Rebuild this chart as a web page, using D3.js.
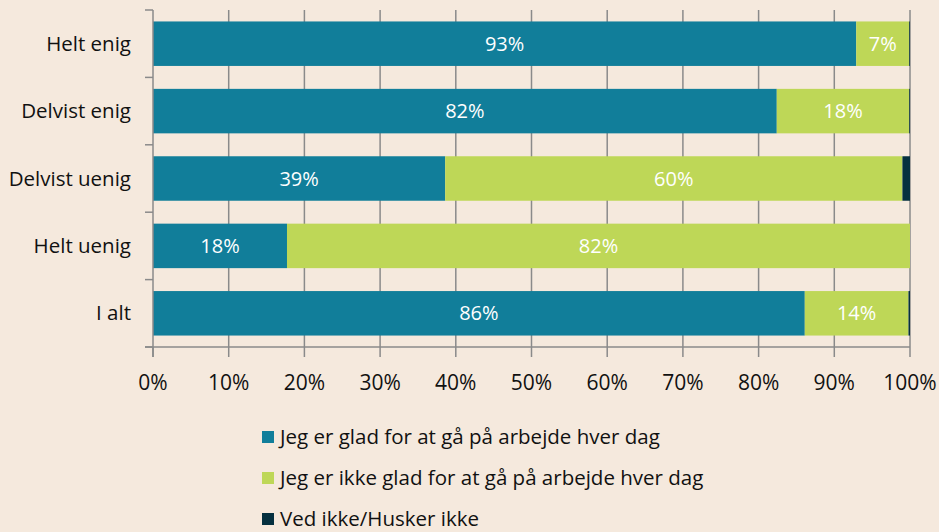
<!DOCTYPE html>
<html>
<head>
<meta charset="utf-8">
<script src="https://cdn.jsdelivr.net/npm/d3@7"></script>
<style>
  body { margin: 0; background: #F5E9DD; }
  svg { display: block; font-family: "Open Sans", "Noto Sans", sans-serif; }
</style>
</head>
<body>
<div id="chart"></div>
<script>
const categories = ["Helt enig", "Delvist enig", "Delvist uenig", "Helt uenig", "I alt"];
const seriesNames = ["Jeg er glad for at gå på arbejde hver dag", "Jeg er ikke glad for at gå på arbejde hver dag", "Ved ikke/Husker ikke"];
const glad = [92.9, 82.4, 38.6, 17.7, 86.1];
const ikkeGlad = [7.0, 17.5, 60.4, 82.3, 13.7];
const vedIkke = [0.1, 0.1, 1.0, 0.0, 0.2];
const barLabels = [["93%", "7%", ""], ["82%", "18%", ""], ["39%", "60%", ""], ["18%", "82%", ""], ["86%", "14%", ""]];
const xTicks = [0, 10, 20, 30, 40, 50, 60, 70, 80, 90, 100];
const colors = ["#117E9A", "#BED757", "#05303F"];

const w = 939, h = 532;
const plotLeft = 153, plotRight = 910, plotTop = 10, plotBottom = 347;

const svg = d3.select("#chart").append("svg")
    .attr("width", w)
    .attr("height", h);

const x = d3.scaleLinear().domain([0, 100]).range([plotLeft, plotRight]);
const y = d3.scaleBand().domain(categories).range([plotTop, plotBottom]).paddingInner(0.34).paddingOuter(0.17);

// build stacked rows
const rows = categories.map(function(c, i) {
    return { cat: c, vals: [glad[i], ikkeGlad[i], vedIkke[i]], labels: barLabels[i] };
});
const stack = d3.stack().keys([0, 1, 2]).value(function(d, k) { return d.vals[k]; });
const stacked = stack(rows);

/* GRID */
svg.append("g")
    .selectAll("line")
    .data(xTicks.slice(1))
    .enter().append("line")
    .attr("x1", d => x(d)).attr("x2", d => x(d))
    .attr("y1", plotTop).attr("y2", plotBottom)
    .attr("stroke", "#8A8A8A")
    .attr("stroke-width", 1.5);

/* BARS */
const layers = svg.selectAll(".layer")
    .data(stacked)
    .enter().append("g")
    .attr("fill", (d, i) => colors[i]);

layers.selectAll("rect")
    .data(d => d)
    .enter().append("rect")
    .attr("x", d => x(d[0]))
    .attr("y", d => y(d.data.cat))
    .attr("width", d => x(d[1]) - x(d[0]))
    .attr("height", y.bandwidth());

layers.selectAll("text")
    .data((d, k) => d.map(s => ({ s: s, k: k })))
    .enter().append("text")
    .attr("x", d => (x(d.s[0]) + x(d.s[1])) / 2)
    .attr("y", d => y(d.s.data.cat) + y.bandwidth() / 2)
    .attr("dy", "0.35em")
    .attr("text-anchor", "middle")
    .attr("fill", "#ffffff")
    .style("font-size", "20px")
    .text(d => d.s.data.labels[d.k]);

/* AXES */
const yAxis = svg.append("g")
    .attr("transform", "translate(" + plotLeft + ",0)");
yAxis.append("line")
    .attr("x1", 0).attr("x2", 0).attr("y1", plotTop).attr("y2", plotBottom + 10)
    .attr("stroke", "#8A8A8A").attr("stroke-width", 1.5);
const step = (plotBottom - plotTop) / categories.length;
yAxis.selectAll(".tk")
    .data(d3.range(categories.length + 1))
    .enter().append("line")
    .attr("x1", -8).attr("x2", 0)
    .attr("y1", d => plotTop + d * step).attr("y2", d => plotTop + d * step)
    .attr("stroke", "#8A8A8A").attr("stroke-width", 1.5);
yAxis.selectAll("text")
    .data(categories)
    .enter().append("text")
    .attr("x", -22)
    .attr("y", d => y(d) + y.bandwidth() / 2)
    .attr("dy", "0.35em")
    .attr("text-anchor", "end")
    .attr("fill", "#111")
    .style("font-size", "20.5px")
    .text(d => d);

const xAxis = svg.append("g");
xAxis.append("line")
    .attr("x1", plotLeft - 8).attr("x2", plotRight)
    .attr("y1", plotBottom).attr("y2", plotBottom)
    .attr("stroke", "#8A8A8A").attr("stroke-width", 1.5);
xAxis.selectAll(".tk")
    .data(xTicks)
    .enter().append("line")
    .attr("x1", d => x(d)).attr("x2", d => x(d))
    .attr("y1", plotBottom).attr("y2", plotBottom + 10)
    .attr("stroke", "#8A8A8A").attr("stroke-width", 1.5);
xAxis.selectAll("text")
    .data(xTicks)
    .enter().append("text")
    .attr("x", d => x(d))
    .attr("y", 383)
    .attr("dy", "0.35em")
    .attr("text-anchor", "middle")
    .attr("fill", "#111")
    .style("font-size", "21px")
    .text(d => d + "%");

/* LEGEND */
const legend = svg.selectAll(".legend")
    .data(seriesNames)
    .enter().append("g")
    .attr("transform", (d, i) => "translate(262," + (437 + i * 41) + ")");
legend.append("rect")
    .attr("x", 0).attr("y", -6)
    .attr("width", 12).attr("height", 12)
    .attr("fill", (d, i) => colors[i]);
legend.append("text")
    .attr("x", 18)
    .attr("dy", "0.35em")
    .attr("fill", "#111")
    .style("font-size", "20.5px")
    .text(d => d);
</script>
</body>
</html>
